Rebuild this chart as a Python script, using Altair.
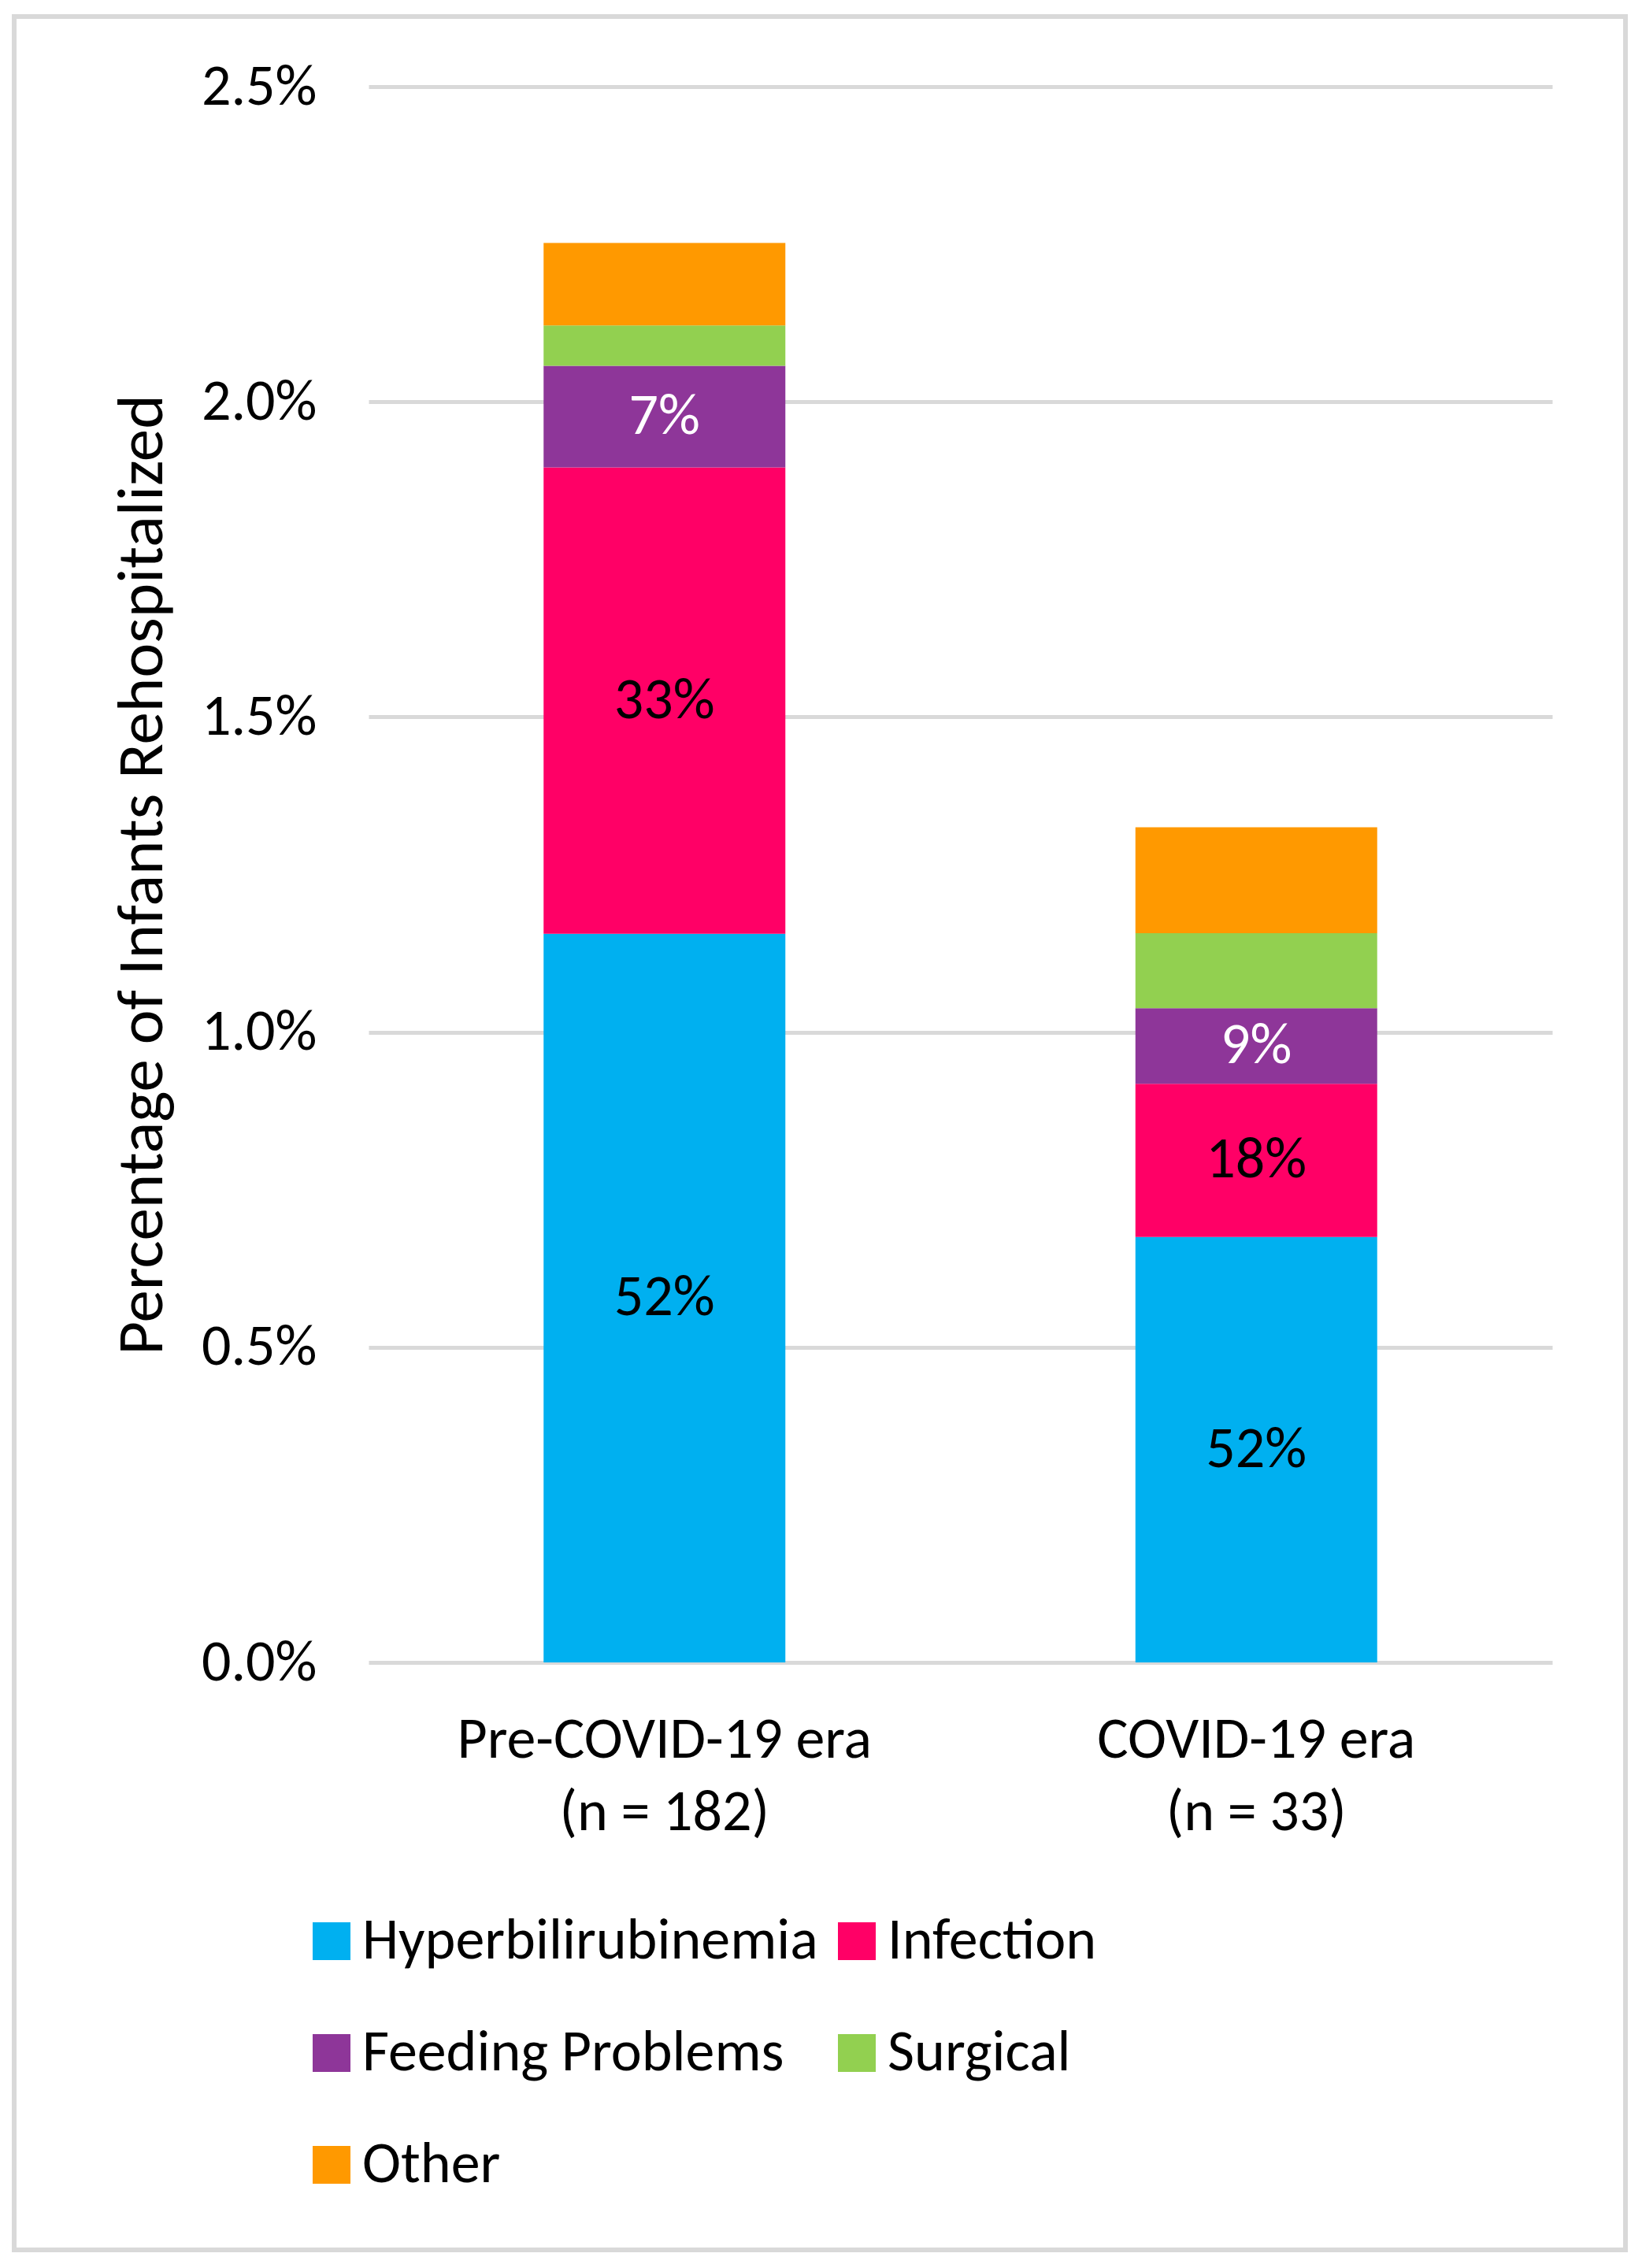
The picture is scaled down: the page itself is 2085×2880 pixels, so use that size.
import altair as alt
import pandas as pd

FONT = "Carlito, Calibri, Lato, sans-serif"

eras = ["Pre-COVID-19 era\n(n = 182)", "COVID-19 era\n(n = 33)"]
causes = ["Hyperbilirubinemia", "Infection", "Feeding Problems", "Surgical", "Other"]
colors = ["#00B0F0", "#FF0066", "#8E3699", "#92D050", "#FF9900"]
pre_values = [1.156, 0.740, 0.161, 0.064, 0.131]
covid_values = [0.675, 0.243, 0.120, 0.119, 0.168]
pre_labels = ["52%", "33%", "7%", "", ""]
covid_labels = ["52%", "18%", "9%", "", ""]
y_ticks = [0, 0.5, 1.0, 1.5, 2.0, 2.5]

rows = []
for era, vals, labs in [(eras[0], pre_values, pre_labels), (eras[1], covid_values, covid_labels)]:
    for i, (c, v, l) in enumerate(zip(causes, vals, labs)):
        rows.append({"era": era, "cause": c, "idx": i, "value": v, "label": l})
df = pd.DataFrame(rows)

base = alt.Chart(df)

x_enc = alt.X(
    "era:N", sort=eras, title=None,
    scale=alt.Scale(paddingInner=0, paddingOuter=0),
    axis=alt.Axis(labelExpr="split(datum.label, '\\n')", ticks=False, domain=False,
                  labelPadding=62, labelLineHeight=92, labelAngle=0, grid=False,
                  labelLimit=3000),
)

bars = base.mark_bar(size=307).encode(
    x=x_enc,
    y=alt.Y("value:Q", stack="zero", title="Percentage of Infants Rehospitalized",
            scale=alt.Scale(domain=[0, 2.5], nice=False),
            axis=alt.Axis(values=y_ticks, labelExpr="format(datum.value, '.1f') + '%'",
                          ticks=False, domain=False, labelPadding=66,
                          titleX=-288, titleBaseline="middle")),
    color=alt.Color("cause:N", sort=causes,
                    scale=alt.Scale(domain=causes, range=colors),
                    legend=alt.Legend(orient="none", legendX=-84, legendY=2318, columns=2,
                                      direction="horizontal",
                                      symbolType="square", symbolSize=2304, symbolStrokeWidth=0,
                                      symbolOpacity=1, labelFontSize=74, labelFont=FONT,
                                      labelColor="black", labelLimit=3000, rowPadding=68,
                                      columnPadding=12, labelOffset=2, title=None, padding=0)),
    order=alt.Order("idx:Q"),
)

text = base.transform_stack(
    stack="value", groupby=["era"], as_=["y0", "y1"], sort=[alt.SortField("idx")]
).transform_calculate(
    mid="(datum.y0 + datum.y1) / 2"
).transform_filter("datum.label != ''").mark_text(fontSize=74, font=FONT, baseline="middle").encode(
    x=alt.X("era:N", sort=eras),
    y=alt.Y("mid:Q", title="Percentage of Infants Rehospitalized"),
    text="label:N",
    color=alt.condition(alt.datum.cause == "Feeding Problems", alt.value("white"), alt.value("black")),
)

border = alt.Chart(pd.DataFrame({"a": [0]})).mark_rect(
    filled=False, stroke="#d9d9d9", strokeWidth=6
).encode(x=alt.value(-450), x2=alt.value(1596), y=alt.value(-89), y2=alt.value(2747))

chart = alt.layer(border, bars, text).properties(
    width=1503, height=2001,
    autosize=alt.AutoSizeParams(type="none"),
    padding={"left": 460, "top": 102, "right": 106, "bottom": 761},
).configure_view(stroke=None).configure_axis(
    labelFont=FONT, labelFontSize=74, labelColor="black",
    titleFont=FONT, titleFontSize=83, titleFontWeight="normal", titleColor="black",
    gridColor="#d9d9d9", gridWidth=5,
)

chart.save("out.html", embed_options={"renderer": "svg", "actions": False})
